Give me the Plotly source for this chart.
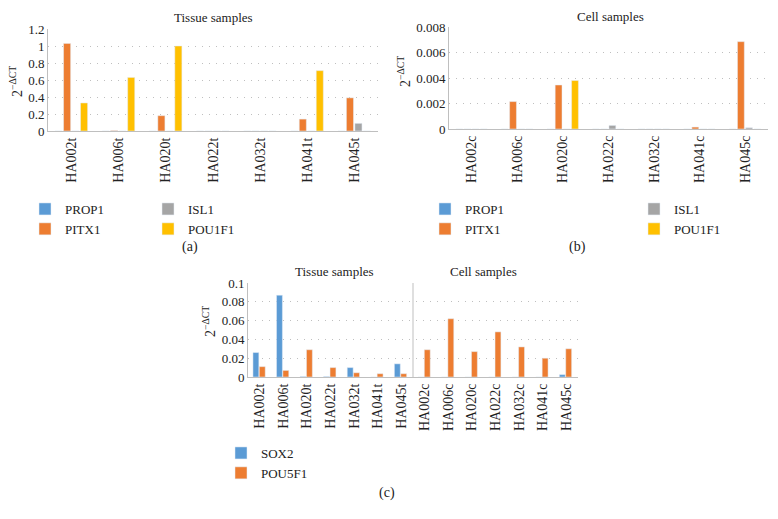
import plotly.graph_objects as go

# ---------------- data ----------------
tissue_a = ["HA002t", "HA006t", "HA020t", "HA022t", "HA032t", "HA041t", "HA045t"]
prop1_a = [0, 0, 0, 0, 0, 0, 0]
pitx1_a = [1.03, 0.005, 0.18, 0, 0, 0.14, 0.39]
isl1_a = [0, 0, 0, 0, 0, 0, 0.09]
pou1f1_a = [0.33, 0.63, 1.0, 0, 0, 0.71, 0]

cell_b = ["HA002c", "HA006c", "HA020c", "HA022c", "HA032c", "HA041c", "HA045c"]
prop1_b = [0, 0, 0, 0, 0, 0, 0]
pitx1_b = [0, 0.00215, 0.00345, 0, 0, 0.00015, 0.00685]
isl1_b = [0, 0, 0, 0.00028, 0, 0, 0.0001]
pou1f1_b = [0, 0, 0.0038, 0, 0, 0, 0]

samples_c = ["HA002t", "HA006t", "HA020t", "HA022t", "HA032t", "HA041t", "HA045t",
             "HA002c", "HA006c", "HA020c", "HA022c", "HA032c", "HA041c", "HA045c"]
sox2_c = [0.026, 0.087, 0.0005, 0.0005, 0.010, 0, 0.014,
          0, 0, 0, 0, 0, 0, 0.0025]
pou5f1_c = [0.011, 0.007, 0.029, 0.010, 0.0045, 0.0035, 0.0035,
            0.029, 0.062, 0.027, 0.048, 0.032, 0.020, 0.030]

# ---------------- style ----------------
W, H = 778, 519
OFF = 8  # page body margin of the saved html
FONT = "Liberation Serif, Times New Roman, serif"
C_BLUE, C_ORANGE, C_GRAY, C_YELLOW = "#5B9BD5", "#ED7D31", "#A5A5A5", "#FFC000"
AXIS_COL = "#BFBFBF"
GRID_COL = "#BFBFBF"


def px_x(p):
    return (p - OFF) / W


def px_y(p):
    return 1 - (p - OFF) / H


fig = go.Figure()

four = [("PROP1", C_BLUE, -0.35), ("PITX1", C_ORANGE, -0.17),
        ("ISL1", C_GRAY, 0.01), ("POU1F1", C_YELLOW, 0.19)]
vals_a = [prop1_a, pitx1_a, isl1_a, pou1f1_a]
vals_b = [prop1_b, pitx1_b, isl1_b, pou1f1_b]
leg_a = ["legend", "legend", "legend2", "legend2"]
leg_b = ["legend3", "legend3", "legend4", "legend4"]

for (name, col, off), v, lg in zip(four, vals_a, leg_a):
    fig.add_trace(go.Bar(x=tissue_a, y=v, name=name, marker_color=col,
                         offset=off, width=0.15, xaxis="x", yaxis="y",
                         legend=lg))
for (name, col, off), v, lg in zip(four, vals_b, leg_b):
    fig.add_trace(go.Bar(x=cell_b, y=v, name=name, marker_color=col,
                         offset=off, width=0.15, xaxis="x2", yaxis="y2",
                         legend=lg))

fig.add_trace(go.Bar(x=samples_c, y=sox2_c, name="SOX2", marker_color=C_BLUE,
                     offset=-0.29, width=0.25, xaxis="x3", yaxis="y3",
                     legend="legend5"))
fig.add_trace(go.Bar(x=samples_c, y=pou5f1_c, name="POU5F1", marker_color=C_ORANGE,
                     offset=-0.02, width=0.25, xaxis="x3", yaxis="y3",
                     legend="legend5"))


def xax(dom, anchor, n):
    return dict(domain=dom, anchor=anchor, type="category", range=[-0.5, n - 0.5],
                tickangle=-90, showline=True, linecolor=AXIS_COL, linewidth=1,
                ticks="", showgrid=False, zeroline=False, automargin=False,
                tickfont=dict(family=FONT, size=14, color="#222"))


def yax(dom, anchor, rng, dt):
    return dict(domain=dom, anchor=anchor, range=rng, dtick=dt,
                showline=True, linecolor=AXIS_COL, linewidth=1, ticks="",
                showgrid=True, gridcolor=GRID_COL, gridwidth=1, griddash="1px,6px",
                zeroline=False, automargin=False,
                tickfont=dict(family=FONT, size=13, color="#222"))


fig.update_layout(
    width=W, height=H, margin=dict(l=0, r=0, t=0, b=0, autoexpand=False),
    paper_bgcolor="white", plot_bgcolor="white", barmode="overlay",
    font=dict(family=FONT, size=13, color="#222"),
    xaxis=xax([px_x(48), px_x(378)], "y", 7),
    yaxis=yax([px_y(131), px_y(29)], "x", [0, 1.2], 0.2),
    xaxis2=xax([px_x(449), px_x(768)], "y2", 7),
    yaxis2=yax([px_y(129), px_y(27)], "x2", [0, 0.008], 0.002),
    xaxis3=xax([px_x(248), px_x(578)], "y3", 14),
    yaxis3=yax([px_y(377), px_y(283)], "x3", [0, 0.1], 0.02),
)

legbase = dict(xanchor="left", yanchor="top", bgcolor="rgba(0,0,0,0)",
               font=dict(family=FONT, size=13, color="#222"), borderwidth=0)
fig.update_layout(
    legend=dict(legbase, x=px_x(25), y=px_y(194)),
    legend2=dict(legbase, x=px_x(148), y=px_y(194)),
    legend3=dict(legbase, x=px_x(425), y=px_y(194)),
    legend4=dict(legbase, x=px_x(634), y=px_y(194)),
    legend5=dict(legbase, x=px_x(221), y=px_y(438)),
)

ann = []


def txt(t, x, y, angle=0, size=13):
    ann.append(dict(text=t, x=px_x(x), y=px_y(y), xref="paper", yref="paper",
                    showarrow=False, textangle=angle, xanchor="center", yanchor="middle",
                    font=dict(family=FONT, size=size, color="#222")))


txt("Tissue samples", 213, 18)
txt("Cell samples", 610, 16)
txt("Tissue samples", 334, 271)
txt("Cell samples", 483, 271)
txt("2<sup>\u2212\u0394CT</sup>", 16, 82, angle=-90, size=14)
txt("2<sup>\u2212\u0394CT</sup>", 404, 72, angle=-90, size=14)
txt("2<sup>\u2212\u0394CT</sup>", 209, 322, angle=-90, size=14)
txt("(a)", 190, 247, size=14)
txt("(b)", 577, 247, size=14)
txt("(c)", 387, 493, size=14)
fig.update_layout(annotations=ann)

fig.add_shape(type="line", xref="x3", yref="y3", x0=6.5, x1=6.5, y0=0, y1=0.1,
              line=dict(color=AXIS_COL, width=1))

fig.write_html("out.html")
